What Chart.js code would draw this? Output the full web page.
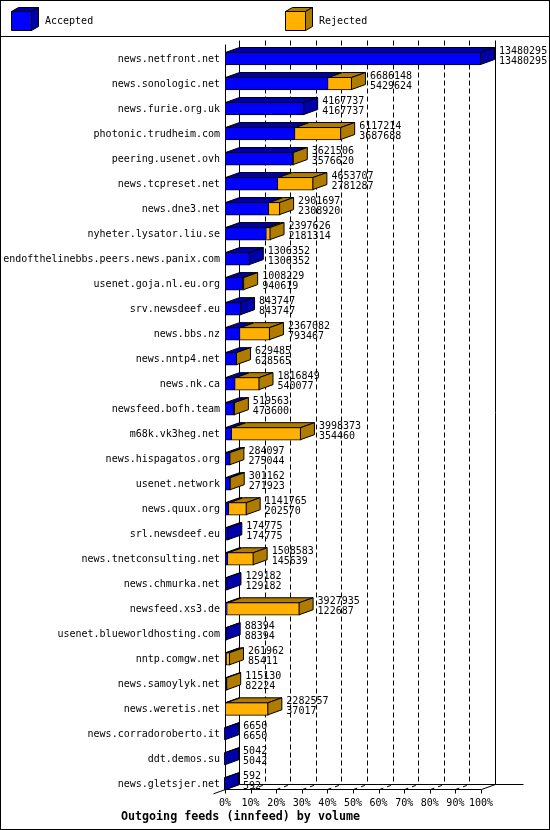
<!DOCTYPE html>
<html>
<head>
<meta charset="utf-8">
<script src="https://cdn.jsdelivr.net/npm/chart.js@4.4.1/dist/chart.umd.min.js"></script>
<style>
html,body{margin:0;padding:0;background:#fff;}
canvas{display:block;}
</style>
</head>
<body>
<canvas id="c" width="550" height="830"></canvas>
<script>
// ---- data ----
const hosts = [
  'news.netfront.net','news.sonologic.net','news.furie.org.uk','photonic.trudheim.com',
  'peering.usenet.ovh','news.tcpreset.net','news.dne3.net','nyheter.lysator.liu.se',
  'endofthelinebbs.peers.news.panix.com','usenet.goja.nl.eu.org','srv.newsdeef.eu','news.bbs.nz',
  'news.nntp4.net','news.nk.ca','newsfeed.bofh.team','m68k.vk3heg.net',
  'news.hispagatos.org','usenet.network','news.quux.org','srl.newsdeef.eu',
  'news.tnetconsulting.net','news.chmurka.net','newsfeed.xs3.de','usenet.blueworldhosting.com',
  'nntp.comgw.net','news.samoylyk.net','news.weretis.net','news.corradoroberto.it',
  'ddt.demos.su','news.gletsjer.net'
];
const offered = [
  13480295, 6686148, 4167737, 6117214,
  3621506, 4653707, 2901697, 2397626,
  1306352, 1008229, 843747, 2367082,
  629485, 1816849, 519563, 3998373,
  284097, 301162, 1141765, 174775,
  1508583, 129182, 3927935, 88394,
  261962, 115130, 2282557, 6650,
  5042, 592
];
const accepted = [
  13480295, 5429624, 4167737, 3687688,
  3576620, 2781287, 2308920, 2181314,
  1306352, 940619, 843747, 793467,
  628565, 540077, 473600, 354460,
  275044, 271923, 202570, 174775,
  145639, 129182, 122687, 88394,
  85411, 82224, 37017, 6650,
  5042, 592
];
const rejected = offered.map((v, i) => v - accepted[i]);
const seriesNames = ['Accepted', 'Rejected'];
const tickPercents = [0, 10, 20, 30, 40, 50, 60, 70, 80, 90, 100];
const chartTitle = 'Outgoing feeds (innfeed) by volume';
const maxOffered = Math.max(...offered);

// ---- style ----
const MONO = '"DejaVu Sans Mono", "Liberation Mono", monospace';
const FRONT = ['#0000ff', '#ffb000'];
const SHADE = ['#0000aa', '#b07c00'];
const DX = 14, DY = 5;

function seg(ctx, x1, y1, x2, y2) {
  ctx.beginPath(); ctx.moveTo(x1, y1); ctx.lineTo(x2, y2); ctx.stroke();
}
function poly(ctx, pts, fill) {
  ctx.beginPath();
  pts.forEach((p, i) => i ? ctx.lineTo(p[0], p[1]) : ctx.moveTo(p[0], p[1]));
  ctx.closePath();
  ctx.fillStyle = fill; ctx.fill();
  ctx.strokeStyle = '#000'; ctx.lineWidth = 1; ctx.stroke();
}

const depthPlugin = {
  id: 'depth3d',
  beforeDatasetsDraw(chart) {
    const { ctx, chartArea: a, scales: { x } } = chart;
    const meta0 = chart.getDatasetMeta(0);
    const last = meta0.data[meta0.data.length - 1];
    const fb = Math.round(last.y + last.height / 2) - 0.5;   // front floor line
    const bb = fb - DY;                                      // back floor line
    const bt = Math.round(a.top) - 6 + 0.5;                  // back top
    const ft = bt + 4;                                       // front axis top
    ctx.save();
    ctx.strokeStyle = '#000'; ctx.lineWidth = 1;
    // back wall vertical grid lines
    tickPercents.forEach((p, i) => {
      const xf = Math.round(x.getPixelForValue(p / 100 * maxOffered)) + 0.5;
      const xb = xf + DX;
      if (i === 0 || i === tickPercents.length - 1) ctx.setLineDash([]);
      else ctx.setLineDash([5, 3]);
      seg(ctx, xb, bt, xb, bb);
    });
    ctx.setLineDash([]);
    const x0 = Math.round(a.left) + 0.5;
    const x1 = Math.round(a.right) + 0.5;
    // floor
    seg(ctx, x0 + DX, bb, x1 + DX + 28, bb);
    seg(ctx, x0, fb, x1, fb);
    seg(ctx, x1, fb, x1 + DX, bb);
    seg(ctx, x0 + DX, bb, x0 - 12, fb + 4.3);
    // floor grid diagonals and ticks
    tickPercents.forEach((p, i) => {
      const xf = Math.round(x.getPixelForValue(p / 100 * maxOffered)) + 0.5;
      ctx.setLineDash([]);
      seg(ctx, xf, fb, xf, fb + 4);
      if (i > 0 && i < tickPercents.length - 1) {
        ctx.setLineDash([4, 4]);
        seg(ctx, xf, fb, xf + DX, bb);
      }
    });
    ctx.setLineDash([]);
    // front left axis
    seg(ctx, x0, ft, x0, fb);
    ctx.restore();
  },
  afterDatasetsDraw(chart) {
    const { ctx } = chart;
    const metas = [chart.getDatasetMeta(0), chart.getDatasetMeta(1)];
    ctx.save();
    ctx.lineWidth = 1;
    hosts.forEach((h, i) => {
      let lastSeg = -1;
      metas.forEach((m, d) => {
        const el = m.data[i];
        const xa = Math.min(el.x, el.base), xb = Math.max(el.x, el.base);
        if (xb - xa < 0.001) return;
        lastSeg = d;
        const top = el.y - el.height / 2 + 0.5;
        poly(ctx, [[xa + 0.5, top], [xb - 0.5, top], [xb - 0.5 + DX, top - DY], [xa + 0.5 + DX, top - DY]], SHADE[d]);
      });
      if (lastSeg >= 0) {
        const el = metas[lastSeg].data[i];
        const xr = Math.max(el.x, el.base) - 0.5;
        const top = el.y - el.height / 2 + 0.5;
        const bot = el.y + el.height / 2 - 0.5;
        poly(ctx, [[xr, top], [xr + DX, top - DY], [xr + DX, bot - DY], [xr, bot]], SHADE[lastSeg]);
      }
    });
    ctx.restore();
  },
  afterDraw(chart) {
    const { ctx, scales: { x } } = chart;
    const meta0 = chart.getDatasetMeta(0);
    ctx.save();
    // value labels
    ctx.font = '10px ' + MONO;
    ctx.fillStyle = '#000';
    ctx.textAlign = 'left';
    ctx.textBaseline = 'middle';
    hosts.forEach((h, i) => {
      const el = meta0.data[i];
      const xl = x.getPixelForValue(offered[i]) + DX + 4;
      ctx.fillText(String(offered[i]), xl, el.y - 7);
      ctx.fillText(String(accepted[i]), xl, el.y + 3);
    });
    // legend
    const legendX = [11, 285];
    seriesNames.forEach((name, d) => {
      const lx = legendX[d] + 0.5, ly = 11.5, w = 20, hgt = 19, ddx = 7, ddy = 4;
      poly(ctx, [[lx, ly], [lx + w, ly], [lx + w, ly + hgt], [lx, ly + hgt]], FRONT[d]);
      poly(ctx, [[lx, ly], [lx + w, ly], [lx + w + ddx, ly - ddy], [lx + ddx, ly - ddy]], SHADE[d]);
      poly(ctx, [[lx + w, ly], [lx + w + ddx, ly - ddy], [lx + w + ddx, ly + hgt - ddy], [lx + w, ly + hgt]], SHADE[d]);
      ctx.fillStyle = '#000';
      ctx.font = '10px ' + MONO;
      ctx.textBaseline = 'middle';
      ctx.fillText(name, legendX[d] + 34, 21);
    });
    // frame
    ctx.strokeStyle = '#000'; ctx.lineWidth = 1;
    seg(ctx, 0, 36.5, 550, 36.5);
    ctx.strokeRect(0.5, 0.5, 549, 829);
    ctx.restore();
  }
};

new Chart(document.getElementById('c'), {
  type: 'bar',
  data: {
    labels: hosts,
    datasets: [
      { label: seriesNames[0], data: accepted, backgroundColor: FRONT[0], borderColor: '#000', borderWidth: 1, borderSkipped: false, barThickness: 13 },
      { label: seriesNames[1], data: rejected, backgroundColor: FRONT[1], borderColor: '#000', borderWidth: 1, borderSkipped: 'start', barThickness: 13 }
    ]
  },
  options: {
    responsive: false,
    animation: false,
    indexAxis: 'y',
    layout: { padding: { top: 46, right: 69, bottom: 0, left: 0 } },
    plugins: {
      legend: { display: false },
      tooltip: { enabled: false },
      title: {
        display: true, text: chartTitle, position: 'bottom', color: '#000',
        font: { family: MONO, size: 11.7, weight: 'bold', lineHeight: 1.2 },
        padding: { top: 0, bottom: 6 }
      }
    },
    scales: {
      x: {
        type: 'linear', stacked: true, min: 0, max: maxOffered,
        grid: { display: false, drawTicks: false }, border: { display: false },
        afterBuildTicks(s) { s.ticks = tickPercents.map(p => ({ value: p / 100 * maxOffered })); },
        ticks: {
          autoSkip: false, maxRotation: 0, padding: 1, color: '#000',
          font: { family: MONO, size: 10 },
          callback: (v, i) => tickPercents[i] + '%'
        },
        afterFit(s) { s.height = 13.6; }
      },
      y: {
        stacked: true,
        grid: { display: false, drawTicks: false }, border: { display: false },
        ticks: { autoSkip: false, padding: 5, labelOffset: 1, color: '#000', font: { family: MONO, size: 10 } },
        afterFit(s) { s.width = 225; }
      }
    }
  },
  plugins: [depthPlugin]
});
</script>
</body>
</html>
